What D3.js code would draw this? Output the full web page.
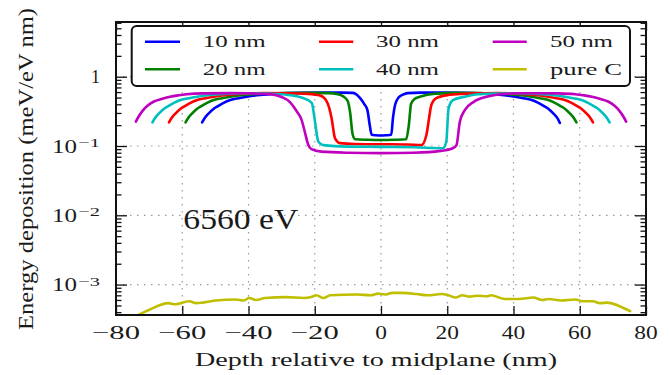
<!DOCTYPE html>
<html><head><meta charset="utf-8">
<script src="https://cdn.jsdelivr.net/npm/d3@7"></script>
<style>
body{margin:0;background:#fff}
text{font-family:"Liberation Serif","Times New Roman",serif;fill:#1a1a1a}
</style>
</head><body>
<svg id="c" width="670" height="375"></svg>
<script>
// ---------- data ----------
const seriesNames = ["10 nm","20 nm","30 nm","40 nm","50 nm","pure C"];
const seriesColors = ["#0000ff","#008000","#ff0000","#00bfbf","#bf00bf","#bfbf00"];

const film10 = [[-54,0.22],[-53.3,0.25],[-52,0.296],[-50.5,0.345],[-49.5,0.37],[-47.5,0.42],[-45.5,0.46],[-43,0.49],[-40.5,0.515],[-36.5,0.545],[-31,0.57],[-25,0.585],[-18,0.59],[-12,0.59],[-8.5,0.585],[-7.3,0.55],[-6.3,0.49],[-5,0.40],[-4.1,0.33],[-3.4,0.2],[-2.8,0.145],[-1.5,0.143],[0,0.142],[1.5,0.143],[3.1,0.145],[3.6,0.25],[4.3,0.40],[5.3,0.50],[6.6,0.55],[8,0.58],[12,0.59],[18,0.59],[25,0.585],[31,0.57],[36.5,0.545],[40.5,0.515],[43,0.49],[45.5,0.46],[47.5,0.42],[49.5,0.37],[50.5,0.345],[52,0.296],[53.3,0.25],[54,0.215]];

const film20 = [[-59,0.22],[-58.3,0.25],[-57,0.296],[-55.5,0.345],[-54.5,0.37],[-52.5,0.42],[-50.5,0.46],[-48,0.49],[-45.5,0.515],[-41.5,0.545],[-36,0.57],[-30,0.58],[-22,0.585],[-16,0.58],[-13,0.56],[-11.4,0.52],[-10.1,0.45],[-9.3,0.30],[-8.6,0.15],[-7.8,0.125],[-4,0.123],[0,0.122],[4,0.123],[7.6,0.125],[8.4,0.2],[9.1,0.41],[10.2,0.48],[11.7,0.514],[14,0.55],[17,0.57],[22,0.585],[30,0.58],[36,0.57],[41.5,0.545],[45.5,0.515],[48,0.49],[50.5,0.46],[52.5,0.42],[54.5,0.37],[55.5,0.345],[57,0.296],[58.3,0.25],[59,0.22]];

const film30 = [[-64,0.22],[-63.3,0.25],[-62,0.296],[-60.5,0.345],[-59.5,0.37],[-57.5,0.42],[-55.5,0.46],[-53,0.49],[-50.5,0.515],[-46.5,0.545],[-41,0.57],[-35,0.58],[-28,0.578],[-22,0.565],[-18.4,0.535],[-16.4,0.44],[-15.6,0.35],[-14.9,0.25],[-13.9,0.13],[-12.4,0.11],[-8,0.107],[0,0.106],[8,0.105],[12.2,0.103],[13.7,0.144],[14.5,0.25],[15.2,0.39],[16.7,0.49],[20.2,0.544],[25,0.565],[30,0.575],[35,0.58],[41,0.57],[46.5,0.545],[50.5,0.515],[53,0.49],[55.5,0.46],[57.5,0.42],[59.5,0.37],[60.5,0.345],[62,0.296],[63.3,0.25],[64,0.22]];

const film40 = [[-69,0.22],[-68.3,0.25],[-67,0.296],[-65.5,0.345],[-64.5,0.37],[-62.5,0.42],[-60.5,0.46],[-58,0.49],[-55.5,0.515],[-51.5,0.545],[-46,0.57],[-40,0.578],[-34,0.57],[-28,0.545],[-24,0.5],[-20.9,0.42],[-20.3,0.3],[-19.9,0.22],[-18.9,0.115],[-17.4,0.103],[-10,0.098],[0,0.097],[10,0.096],[18.7,0.093],[19.7,0.115],[20.4,0.35],[21.7,0.46],[25.3,0.514],[29.3,0.557],[34,0.57],[40,0.578],[46,0.57],[51.5,0.545],[55.5,0.515],[58,0.49],[60.5,0.46],[62.5,0.42],[64.5,0.37],[65.5,0.345],[67,0.296],[68.3,0.25],[69,0.22]];

const film50 = [[-74,0.225],[-73.3,0.26],[-71.8,0.33],[-70.5,0.38],[-68.7,0.435],[-66,0.48],[-63.7,0.514],[-61,0.54],[-58.7,0.557],[-53.6,0.574],[-45,0.58],[-40.5,0.576],[-33.5,0.56],[-30,0.51],[-27.5,0.43],[-25.5,0.32],[-24,0.24],[-23,0.16],[-22,0.105],[-21,0.09],[-18,0.083],[-10,0.08],[0,0.079],[10,0.08],[18,0.085],[21.7,0.093],[22.8,0.103],[23.8,0.224],[25.3,0.33],[27.9,0.43],[31.9,0.514],[36.9,0.563],[42,0.578],[48,0.578],[53.6,0.574],[58.7,0.557],[61,0.54],[63.7,0.514],[66,0.48],[68.7,0.435],[70.5,0.38],[71.8,0.33],[73.3,0.26],[74,0.225]];

const pureC = [[-73.5,3.6e-4],[-70.1,4.3e-4],[-64.2,5.4e-4],[-62.1,5.2e-4],[-57.9,5.75e-4],[-55.7,5.4e-4],[-49.9,5.9e-4],[-44.0,6.1e-4],[-41.4,5.9e-4],[-39.8,6.4e-4],[-37.7,6.0e-4],[-35.0,6.4e-4],[-28.6,6.6e-4],[-23.3,6.4e-4],[-21.1,6.6e-4],[-19.5,7.0e-4],[-17.4,6.4e-4],[-15.3,7.0e-4],[-7.3,7.2e-4],[-3.1,7.0e-4],[-0.9,7.4e-4],[1.2,7.2e-4],[3.4,7.6e-4],[6.5,7.6e-4],[10.8,7.3e-4],[14.0,7.0e-4],[18.3,7.3e-4],[20.4,7.0e-4],[22.5,6.5e-4],[24.6,7.0e-4],[26.7,6.7e-4],[28.9,6.9e-4],[32.1,6.8e-4],[33.2,7.0e-4],[37.4,6.2e-4],[41.7,6.2e-4],[46.0,6.5e-4],[48.6,6.0e-4],[50.7,6.2e-4],[54.4,5.9e-4],[58.7,6.1e-4],[60.8,5.75e-4],[64.0,5.75e-4],[66.1,5.4e-4],[68.3,5.5e-4],[71.5,5.0e-4],[75.2,4.13e-4]];

const xTicks = [-80,-60,-40,-20,0,20,40,60,80];
const xTickLabels = ["\u221280","\u221260","\u221240","\u221220","0","20","40","60","80"];
const yTicks = [1,0.1,0.01,0.001];
const yTickExps = ["","\u22121","\u22122","\u22123"];
const annotation = "6560 eV";
const xLabel = "Depth relative to midplane (nm)";
const yLabel = "Energy deposition (meV/eV nm)";

// ---------- layout ----------
const svg = d3.select("#c");
const L = 116, R = 646, T = 22, B = 315;
const x = d3.scaleLinear().domain([-80,80]).range([L,R]);
const y = d3.scaleLog().domain([3.64e-4, 6.16]).range([B,T]);

svg.append("defs").append("clipPath").attr("id","clip")
  .append("rect").attr("x",L).attr("y",T).attr("width",R-L).attr("height",B-T);

// grid
const grid = svg.append("g").attr("stroke","#9a9a9a").attr("stroke-width",1.2).attr("stroke-dasharray","1.5,5.5");
grid.selectAll("line.v").data(xTicks.filter(d=>d>-80&&d<80)).join("line")
  .attr("x1",d=>x(d)).attr("x2",d=>x(d)).attr("y1",T).attr("y2",B);
grid.selectAll("line.h").data(yTicks).join("line")
  .attr("x1",L).attr("x2",R).attr("y1",d=>y(d)).attr("y2",d=>y(d));

// axes ticks (inward)
const ax = svg.append("g").attr("class","ax");
function styleAxis(g){ g.select(".domain").remove(); g.selectAll("line").attr("stroke","#111").attr("stroke-width",1.3); g.selectAll("text").remove(); }
ax.append("g").attr("transform",`translate(0,${B})`).call(d3.axisBottom(x).tickValues(xTicks).tickSize(-9)).call(styleAxis);
ax.append("g").attr("transform",`translate(0,${T})`).call(d3.axisTop(x).tickValues(xTicks).tickSize(-9)).call(styleAxis);
const minor = [];
[-4,-3,-2,-1,0].forEach(e=>{ for(let m=2;m<=9;m++){ const v=m*Math.pow(10,e); if(v>y.domain()[0]&&v<y.domain()[1]) minor.push(v);} });
ax.append("g").attr("transform",`translate(${L},0)`).call(d3.axisLeft(y).tickValues(yTicks).tickSize(-11)).call(styleAxis);
ax.append("g").attr("transform",`translate(${R},0)`).call(d3.axisRight(y).tickValues(yTicks).tickSize(-11)).call(styleAxis);
ax.append("g").attr("transform",`translate(${L},0)`).call(d3.axisLeft(y).tickValues(minor).tickSize(-5.5)).call(styleAxis);
ax.append("g").attr("transform",`translate(${R},0)`).call(d3.axisRight(y).tickValues(minor).tickSize(-5.5)).call(styleAxis);

// lines
const line = d3.line().x(d=>x(d[0])).y(d=>y(d[1])).curve(d3.curveMonotoneX);
const allSeries = [film10,film20,film30,film40,film50,pureC];
const lines = svg.append("g").attr("clip-path","url(#clip)");
allSeries.forEach((s,i)=>{
  lines.append("path").datum(s).attr("d",line).attr("fill","none")
    .attr("stroke",seriesColors[i]).attr("stroke-width",2.6).attr("stroke-linejoin","round").attr("stroke-linecap","round");
});

// frame
svg.append("rect").attr("x",L).attr("y",T).attr("width",R-L).attr("height",B-T)
  .attr("fill","none").attr("stroke","#111").attr("stroke-width",2);

// x tick labels
function labW(s){ let n=0,w=0; for(const c of s){ if(c==="\u2212") w+=24.5; else w+=11.7; } return w; }
svg.append("g").selectAll("text").data(xTicks).join("text")
  .attr("x",d=>x(d)).attr("y",339.3).attr("text-anchor","middle").attr("font-size",18.5)
  .attr("textLength",(d,i)=>labW(xTickLabels[i])).attr("lengthAdjust","spacingAndGlyphs")
  .text((d,i)=>xTickLabels[i]);

// y tick labels
const yl = svg.append("g");
yTicks.forEach((t,i)=>{
  if(yTickExps[i]===""){
    yl.append("text").attr("x",100).attr("y",y(t)+6.6).attr("text-anchor","end").attr("font-size",18.5)
      .attr("textLength",9).attr("lengthAdjust","spacingAndGlyphs").text("1");
  } else {
    yl.append("text").attr("x",77).attr("y",y(t)+6.6).attr("text-anchor","end").attr("font-size",18.5)
      .attr("textLength",25).attr("lengthAdjust","spacingAndGlyphs").text("10");
    yl.append("text").attr("x",78.3).attr("y",y(t)+1).attr("text-anchor","start").attr("font-size",13.5)
      .attr("textLength",21.7).attr("lengthAdjust","spacingAndGlyphs").text(yTickExps[i]);
  }
});

// axis labels
svg.append("text").attr("x",376).attr("y",366).attr("text-anchor","middle").attr("font-size",18)
  .attr("textLength",362).attr("lengthAdjust","spacingAndGlyphs").text(xLabel);
svg.append("text").attr("transform","translate(33,169) rotate(-90)").attr("text-anchor","middle").attr("font-size",20)
  .attr("textLength",322).attr("lengthAdjust","spacingAndGlyphs").text(yLabel);

// annotation
svg.append("text").attr("x",183.3).attr("y",229.3).attr("font-size",29)
  .attr("textLength",115).attr("lengthAdjust","spacingAndGlyphs").text(annotation);

// legend
const lg = svg.append("g");
lg.append("rect").attr("x",131.7).attr("y",26).attr("width",498.3).attr("height",60).attr("rx",5)
  .attr("fill","#fff").attr("stroke","#111").attr("stroke-width",2);
const colX = [[145,180,202.7],[319,353.3,376],[492.7,526.7,550]];
const rowY = [[41.7,47.3],[69.3,75]];
seriesNames.forEach((n,i)=>{
  const c = Math.floor(i/2), r = i%2;
  lg.append("line").attr("x1",colX[c][0]).attr("x2",colX[c][1]).attr("y1",rowY[r][0]).attr("y2",rowY[r][0])
    .attr("stroke",seriesColors[i]).attr("stroke-width",2.6);
  lg.append("text").attr("x",colX[c][2]).attr("y",rowY[r][1]).attr("font-size",17.3)
    .attr("textLength", n==="pure C"?72:63).attr("lengthAdjust","spacingAndGlyphs").text(n);
});
</script>
</body></html>
